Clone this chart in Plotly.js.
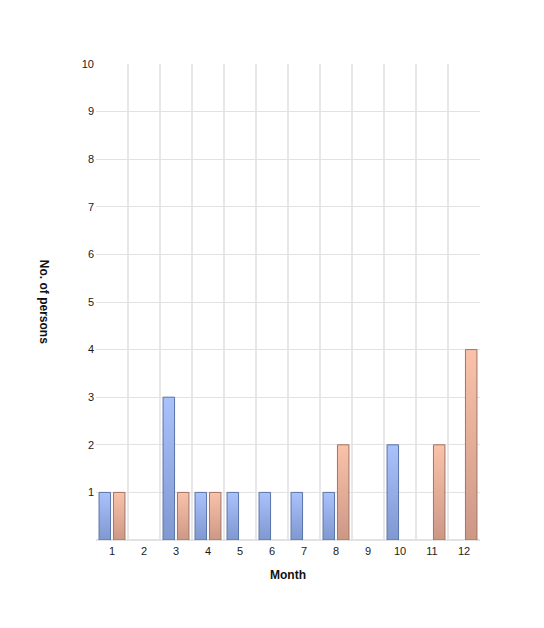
<!DOCTYPE html>
<html>
<head>
<meta charset="utf-8">
<script src="https://cdn.plot.ly/plotly-3.0.1.min.js"></script>
<style>html,body{margin:0;padding:0;background:#fff;}#chart{width:544px;height:628px;}</style>
</head>
<body>
<div id="chart"></div>
<script>
const months = ["1","2","3","4","5","6","7","8","9","10","11","12"];
const seriesA = [1,null,3,1,1,1,1,1,null,2,null,null];
const seriesB = [1,null,1,1,null,null,null,2,null,null,2,4];
const yTicks = [1,2,3,4,5,6,7,8,9,10];

const traces = [
  {type:"bar", x:months, y:seriesA, name:"A",
   marker:{color:"#94ace4", line:{color:"#5a72aa", width:1}}},
  {type:"bar", x:months, y:seriesB, name:"B",
   marker:{color:"#e6b09c", line:{color:"#a47262", width:1}}}
];
const layout = {
  width:544, height:628,
  margin:{l:96, r:64, t:64, b:88},
  paper_bgcolor:"#fff", plot_bgcolor:"#fff",
  showlegend:false,
  barmode:"group", bargap:0.1, bargroupgap:0.2,
  font:{family:"Liberation Sans, Arial, sans-serif", size:11, color:"#1a1a1a"},
  xaxis:{type:"category", tickson:"boundaries", showgrid:true, gridcolor:"#e8e8e8", gridwidth:2,
         ticks:"", showline:false, tickfont:{size:11, color:"#1a1a1a"}, ticklabelstandoff:3,
         title:{text:"<b>Month</b>", font:{size:12, color:"#111"}, standoff:14}},
  yaxis:{range:[0,10], tickvals:yTicks, showgrid:true, gridcolor:"#e2e2e2", gridwidth:1,
         zeroline:true, zerolinecolor:"#e2e2e2", zerolinewidth:2, ticks:"", ticklabelstandoff:1,
         tickfont:{size:11, color:"#1a1a1a"}},
  annotations:[{text:"<b>No. of persons</b>", xref:"paper", yref:"paper", x:-0.135, y:0.5,
                textangle:90, showarrow:false, font:{size:12, color:"#111"}, xanchor:"center", yanchor:"middle"}]
};
Plotly.newPlot("chart", traces, layout, {displayModeBar:false, staticPlot:true}).then(function(gd){
  const svg = gd.querySelector("svg.main-svg");
  const ns = "http://www.w3.org/2000/svg";
  const defs = document.createElementNS(ns, "defs");
  function grad(id, top, bottom){
    const g = document.createElementNS(ns, "linearGradient");
    g.setAttribute("id", id); g.setAttribute("x1","0"); g.setAttribute("y1","0"); g.setAttribute("x2","0"); g.setAttribute("y2","1");
    [[0,top],[1,bottom]].forEach(function(s){
      const st = document.createElementNS(ns, "stop");
      st.setAttribute("offset", s[0]); st.setAttribute("stop-color", s[1]); g.appendChild(st);
    });
    defs.appendChild(g);
  }
  grad("gA", "#aac2fa", "#8098d0");
  grad("gB", "#fac2aa", "#cc9886");
  svg.insertBefore(defs, svg.firstChild);
  const groups = gd.querySelectorAll(".barlayer .trace");
  groups.forEach(function(t, i){
    t.querySelectorAll("path").forEach(function(p){ p.style.fill = "url(#" + (i===0?"gA":"gB") + ")"; });
  });
});
</script>
</body>
</html>
